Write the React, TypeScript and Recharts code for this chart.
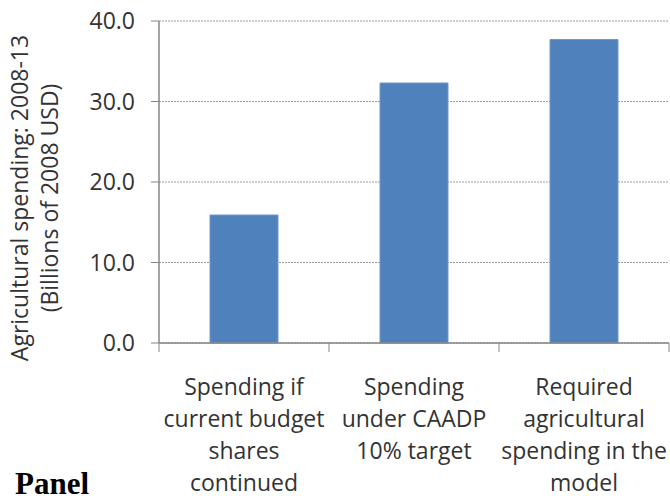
import { BarChart, Bar, XAxis, YAxis, CartesianGrid } from 'recharts';

// Category labels, one entry per line of the wrapped tick text
const categoryLines = [
  ['Spending if', 'current budget', 'shares', 'continued'],
  ['Spending', 'under CAADP', '10% target'],
  ['Required', 'agricultural', 'spending in the', 'model'],
];
const spending = [15.9, 32.3, 37.7];
const yTicks = [0, 10, 20, 30, 40];
const yTitleLines = ['Agricultural spending: 2008-13', '(Billions of 2008 USD)'];

const data = categoryLines.map((lines, i) => ({
  name: lines.join(' '),
  lines,
  value: spending[i],
}));

const FONT = '"Open Sans", sans-serif';
const TEXT = '#333333';
const AXIS = '#868686';
const TICK_LEN = 9;

// Tick marks sit on the category boundaries (Excel style), labels at the centre
function CategoryTick({ x, y, payload, index }: any) {
  const lines = categoryLines[index] ?? [String(payload.value)];
  const half = payload.offset ?? 0;
  const isLast = index === categoryLines.length - 1;
  return (
    <g>
      <line x1={x - half} x2={x - half} y1={y} y2={y + TICK_LEN} stroke={AXIS} />
      {isLast && <line x1={x + half} x2={x + half} y1={y} y2={y + TICK_LEN} stroke={AXIS} />}
      <text x={x} y={y} textAnchor="middle" fill={TEXT} fontSize={23} fontFamily={FONT}>
        {lines.map((line, i) => (
          <tspan key={i} x={x} y={y + 52 + i * 32}>
            {line}
          </tspan>
        ))}
      </text>
    </g>
  );
}

function YTitle({ viewBox }: any) {
  const cy = viewBox.y + viewBox.height / 2 + 16;
  return (
    <g>
      {yTitleLines.map((line, i) => (
        <text
          key={i}
          transform={`translate(${viewBox.x + 28 + i * 30}, ${cy}) rotate(-90)`}
          textAnchor="middle"
          fill={TEXT}
          fontSize={23}
          fontFamily={FONT}
        >
          {line}
        </text>
      ))}
    </g>
  );
}

export default function App() {
  return (
    <div style={{ position: 'absolute', left: 0, top: 0, width: 670, height: 496, background: '#fff' }}>
      <BarChart
        width={670}
        height={496}
        data={data}
        margin={{ top: 21, right: 1, bottom: 0, left: 0 }}
        barCategoryGap="30%"
      >
        <CartesianGrid vertical={false} stroke="#9a9a9a" strokeDasharray="2 1" />
        <XAxis
          dataKey="name"
          height={153}
          tickSize={0}
          tickMargin={0}
          tickLine={false}
          axisLine={{ stroke: AXIS, strokeWidth: 1.5 }}
          interval={0}
          tick={<CategoryTick />}
        />
        <YAxis
          width={159}
          domain={[0, 40]}
          ticks={yTicks}
          tickFormatter={(v: number) => v.toFixed(1)}
          tickSize={8}
          tickMargin={16}
          tickLine={{ stroke: AXIS }}
          axisLine={{ stroke: AXIS, strokeWidth: 1.5 }}
          tick={{ fill: TEXT, fontSize: 23, fontFamily: FONT }}
          label={<YTitle />}
        />
        <Bar dataKey="value" fill="#4f81bd" stroke="#6f97c9" strokeWidth={1} isAnimationActive={false} />
      </BarChart>
      <svg width={670} height={496} style={{ position: 'absolute', left: 0, top: 0, pointerEvents: 'none' }}>
        <text x={15} y={494} fontFamily='"Liberation Serif", "Times New Roman", serif' fontWeight="bold" fontSize={31} fill="#000">
          Panel
        </text>
      </svg>
    </div>
  );
}
